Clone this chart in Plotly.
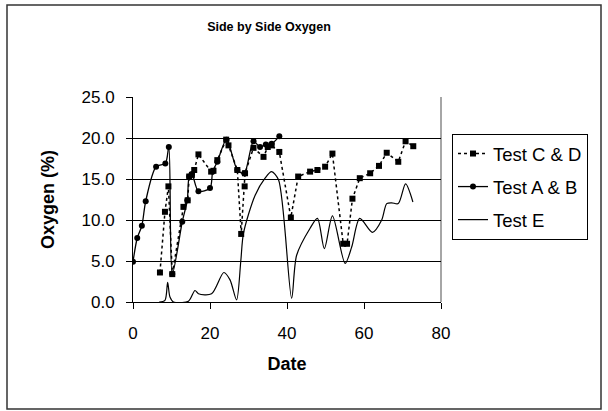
import plotly.graph_objects as go

# Test C & D (dotted, squares)
cd_x = [7.0, 8.3, 9.2, 10.2, 13.1, 14.2, 14.6, 15.3, 15.9, 17.0, 20.3, 20.9, 21.9, 24.2, 24.8,
        27.1, 28.1, 29.0, 29.1, 31.3, 33.9, 35.0, 36.0, 38.0, 41.0, 42.9, 46.0, 47.9, 49.9,
        51.8, 54.6, 55.6, 57.0, 58.9, 61.6, 63.9, 65.9, 68.9, 70.8, 72.8]
cd_y = [3.6, 11.0, 14.1, 3.4, 11.6, 12.4, 15.3, 15.5, 16.1, 18.0, 15.9, 16.0, 17.3, 19.8, 19.1,
        16.1, 8.3, 14.1, 15.7, 18.8, 17.7, 18.9, 19.1, 18.3, 10.3, 15.3, 15.9, 16.1, 16.5,
        18.1, 7.1, 7.1, 12.6, 15.1, 15.7, 16.6, 18.2, 17.1, 19.6, 19.0]

# Test A & B (solid, circles)
ab_x = [0.0, 1.1, 2.3, 3.3, 6.0, 8.4, 9.3, 10.2, 12.8, 14.1, 14.6, 15.3, 17.0, 20.0, 20.7,
        21.9, 24.3, 27.1, 28.9, 31.3, 33.0, 34.5, 36.0, 38.0]
ab_y = [4.9, 7.8, 9.3, 12.3, 16.5, 16.9, 18.9, 3.4, 9.8, 12.4, 15.3, 15.6, 13.5, 13.9, 15.9,
        17.1, 19.8, 16.1, 15.7, 19.6, 18.9, 19.2, 19.3, 20.2]

# Test E (solid line)
e_x = [6.8, 8.3, 9.0, 9.6, 10.5, 14.4, 16.1, 17.0, 20.4, 23.6, 25.2, 26.9, 28.0, 28.7, 31.7,
       34.3, 36.0, 37.8, 41.2, 42.5, 46.0, 47.9, 49.7, 51.8, 55.1, 56.8, 58.9, 62.2, 64.6,
       65.9, 67.2, 68.9, 70.8, 72.7]
e_y = [0.0, 0.2, 2.4, 0.6, 0.0, 0.1, 1.4, 1.0, 1.0, 3.6, 2.7, 0.25, 5.0, 8.4, 13.0,
       15.1, 15.9, 14.9, 0.45, 5.7, 9.0, 10.2, 6.5, 10.5, 4.7, 6.7, 10.2, 8.5, 10.0,
       12.0, 12.1, 12.0, 14.4, 12.2]

FONT = "Liberation Sans, Arial, sans-serif"

fig = go.Figure()
fig.add_trace(go.Scatter(x=cd_x, y=cd_y, name="Test C & D", mode="lines+markers",
                         line=dict(color="black", width=1.5, dash="dot"),
                         marker=dict(symbol="square", size=6, color="black"),
                         legendgroup="a"))
fig.add_trace(go.Scatter(x=ab_x, y=ab_y, name="Test A & B", mode="lines+markers",
                         line=dict(color="black", width=1.3, shape="spline", smoothing=0.8),
                         marker=dict(symbol="circle", size=6, color="black"),
                         legendgroup="b"))
fig.add_trace(go.Scatter(x=e_x, y=e_y, name="Test E", mode="lines",
                         line=dict(color="black", width=1.2, shape="spline", smoothing=0.8),
                         legendgroup="c"))

L, R, T, B = 133, 441, 97, 302
W, H = 608, 411

def px(xp):
    return (xp - L) / (R - L)

def py(yp):
    return (B - yp) / (B - T)

fig.update_layout(
    width=W, height=H,
    margin=dict(l=L, r=W - R, t=T, b=H - B),
    paper_bgcolor="white", plot_bgcolor="white",
    font=dict(family=FONT, color="black", size=17),
    title=dict(text="<b>Side by Side Oxygen</b>", x=269 / W, xanchor="center",
               y=1 - 27 / H, yanchor="middle", font=dict(size=12.5)),
    showlegend=True,
    legend=dict(x=px(452), y=py(134), xanchor="left", yanchor="top",
                bordercolor="black", borderwidth=1, bgcolor="white",
                font=dict(size=18.5), tracegroupgap=6, itemwidth=30),
    xaxis=dict(range=[0, 80], dtick=20, tick0=0, showgrid=False, zeroline=False,
               showline=True, linecolor="black", linewidth=1,
               ticks="outside", ticklen=6, tickcolor="black",
               ticklabelstandoff=10,
               title=dict(text="<b>Date</b>", font=dict(size=18), standoff=14)),
    yaxis=dict(range=[0, 25], dtick=5, tick0=0, tickformat=".1f",
               showgrid=True, gridcolor="black", gridwidth=1, zeroline=False,
               showline=True, linecolor="black", linewidth=1,
               ticks="outside", ticklen=6, tickcolor="black",
               ticklabelstandoff=8,
               title=dict(text="<b>Oxygen (%)</b>", font=dict(size=18), standoff=22)),
    shapes=[
        dict(type="line", xref="paper", yref="paper", x0=1, x1=1, y0=0, y1=1,
             line=dict(color="#a6a6a6", width=2), layer="below"),
        dict(type="rect", xref="paper", yref="paper", x0=px(7), x1=px(601),
             y0=py(409), y1=py(5), line=dict(color="#333333", width=1.5)),
    ],
)

fig.write_html("out.html")
